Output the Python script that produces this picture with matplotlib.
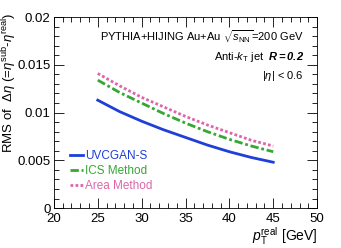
import numpy as np
import matplotlib.pyplot as plt
from matplotlib.ticker import MultipleLocator

plt.rcParams['font.family'] = ['Liberation Sans', 'DejaVu Sans']
plt.rcParams['mathtext.fontset'] = 'custom'
plt.rcParams['mathtext.rm'] = 'Liberation Sans'
plt.rcParams['mathtext.it'] = 'Liberation Sans:italic'
plt.rcParams['mathtext.bf'] = 'Liberation Sans:bold:italic'

pt = [25, 27.5, 30, 32.5, 35, 37.5, 40, 42.5, 45]
rms_uvcgan = [0.0113, 0.0101, 0.0091, 0.0082, 0.0074, 0.0066, 0.0059, 0.0053, 0.0048]
rms_ics = [0.0134, 0.0121, 0.0110, 0.0099, 0.0089, 0.0080, 0.0072, 0.0065, 0.0059]
rms_area = [0.0141, 0.0128, 0.0116, 0.0106, 0.0096, 0.0087, 0.0079, 0.0071, 0.0065]

c_blue = '#1f3fd8'
c_green = '#33a833'
c_pink = '#dd66aa'

fig = plt.figure(figsize=(3.41, 2.48), dpi=100)
ax = fig.add_axes([0.158, 0.161, 0.772, 0.77])

ax.plot(pt, rms_uvcgan, color=c_blue, lw=2.0, label='UVCGAN-S')
ax.plot(pt, rms_ics, color=c_green, lw=2.0, ls=(0, (3, 1, 1, 1)), label='ICS Method')
ax.plot(pt, rms_area, color=c_pink, lw=2.0, ls=(0, (1, 0.8)), label='Area Method')

ax.set_xlim(20, 50)
ax.set_ylim(0, 0.02)
ax.xaxis.set_major_locator(MultipleLocator(5))
ax.xaxis.set_minor_locator(MultipleLocator(1))
ax.yaxis.set_major_locator(MultipleLocator(0.005))
ax.yaxis.set_minor_locator(MultipleLocator(0.001))
ax.set_yticks([0, 0.005, 0.01, 0.015, 0.02])
ax.set_yticklabels(['0', '0.005', '0.01', '0.015', '0.02'])
ax.tick_params(which='both', direction='in', top=True, right=True, labelsize=9.5, width=0.6)
ax.tick_params(axis='y', pad=2.5)
ax.tick_params(which='major', length=7)
ax.tick_params(which='minor', length=3.5)
for s in ax.spines.values():
    s.set_linewidth(0.6)

fig.text(0.93, 0.03, r'$p_{\mathrm{T}}^{\mathrm{real}}$ [GeV]', fontsize=10, ha='right', va='baseline')
fig.text(0.028, 0.665, r'RMS of  $\Delta\eta$ (=$\eta^{\mathrm{sub}}$-$\eta^{\mathrm{real}}$)',
         fontsize=9.5, ha='center', va='center', rotation=90)

ax.text(0.95, 0.9, r'PYTHIA+HIJING Au+Au $\sqrt{s_{\mathrm{NN}}}$=200 GeV', transform=ax.transAxes,
        ha='right', va='center', fontsize=8)
ax.text(0.95, 0.79, r'Anti-$k_{\mathrm{T}}$ jet  $\mathbf{R=0.2}$', transform=ax.transAxes,
        ha='right', va='center', fontsize=8)
ax.text(0.95, 0.69, r'$|\eta|$ < 0.6', transform=ax.transAxes,
        ha='right', va='center', fontsize=8)

leg = ax.legend(loc='lower left', bbox_to_anchor=(0.03, 0.04), frameon=False, fontsize=8.5,
                handlelength=1.1, handletextpad=0.2, labelspacing=0.25, borderaxespad=0.3)
for txt, c in zip(leg.get_texts(), [c_blue, c_green, c_pink]):
    txt.set_color(c)

fig.savefig('out.png', dpi=100)
